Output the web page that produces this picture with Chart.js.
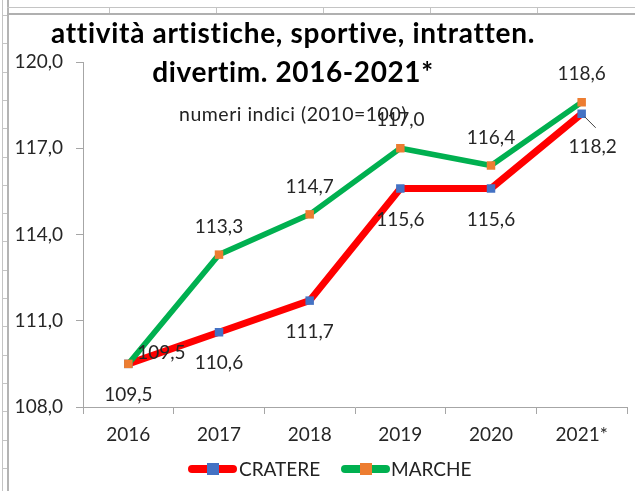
<!DOCTYPE html>
<html>
<head>
<meta charset="utf-8">
<script src="https://cdn.jsdelivr.net/npm/chart.js@4/dist/chart.umd.min.js"></script>
<style>
  html, body { margin: 0; padding: 0; background: #fff; }
  #wrap { position: relative; width: 635px; height: 491px; overflow: hidden; background: #fff; }
  .ln { position: absolute; background: #c4c4c4; }
  #cv { position: absolute; left: 9px; top: 16px; }
  .title { position: absolute; left: 0; width: 586px; text-align: center; font-family: Lato, "Open Sans", sans-serif; font-weight: bold; color: #000; white-space: nowrap; }
  #sub { position: absolute; left: 0; width: 586px; text-align: center; font-family: Lato, "Open Sans", sans-serif; font-size: 19.5px; letter-spacing: 0.5px; color: #222; white-space: nowrap; }
  #legend { position: absolute; top: 457px; left: 188px; height: 24px; font-family: Lato, "Open Sans", sans-serif; font-size: 19px; color: #222; white-space: nowrap; }
  .item { position: absolute; top: 0; height: 24px; }
  .sym { position: absolute; top: 8px; width: 49px; height: 8px; border-radius: 4px; }
  .sq { position: absolute; top: -2px; left: 19px; width: 12px; height: 12px; }
  .lbl { position: absolute; top: 0; line-height: 24px; }
</style>
</head>
<body>
<div id="wrap">
  <div class="ln" style="left:2px;top:0;width:1px;height:491px;"></div>
  <div class="ln" style="left:7px;top:0;width:2px;height:491px;background:#b4b4b4;"></div>
  <div class="ln" style="left:7px;top:7px;width:628px;height:1px;"></div>
  <div class="ln" style="left:7px;top:13px;width:628px;height:2px;background:#b0b0b0;"></div>
  <div id="marks"></div>
  <canvas id="cv" width="626" height="475"></canvas>
  <div class="title" id="t1" style="top:15px;font-size:28px;letter-spacing:0.7px;">attività artistiche, sportive, intratten.</div>
  <div class="title" id="t2" style="top:54px;font-size:28px;letter-spacing:0.6px;">divertim. 2016-2021*</div>
  <div id="sub" style="top:102px;">numeri indici (2010=100)</div>
  <div id="legend">
    <div class="item" style="left:0;">
      <div class="sym" style="left:0;background:#ff0000;"><div class="sq" style="background:#4472c4;"></div></div>
      <div class="lbl" style="left:51px;">CRATERE</div>
    </div>
    <div class="item" style="left:153px;">
      <div class="sym" style="left:0;background:#00b050;"><div class="sq" style="background:#ed7d31;"></div></div>
      <div class="lbl" style="left:50px;">MARCHE</div>
    </div>
  </div>
</div>
<script>
// ---- data ----
const categories = ["2016", "2017", "2018", "2019", "2020", "2021*"];
const cratere = [109.5, 110.6, 111.7, 115.6, 115.6, 118.2];
const marche  = [109.5, 113.3, 114.7, 117.0, 116.4, 118.6];
const yTicks  = [108, 111, 114, 117, 120];
const seriesNames = ["CRATERE", "MARCHE"];

// spreadsheet decoration
(function(){
  const m = document.getElementById('marks');
  [109, 216, 323, 430, 537].forEach(x => {
    const d = document.createElement('div'); d.className = 'ln';
    d.style.cssText = `left:${x}px;top:7px;width:1px;height:6px;`; m.appendChild(d);
  });
  for (let y = 15; y < 491; y += 28.3) {
    const d = document.createElement('div'); d.className = 'ln';
    d.style.cssText = `left:2px;top:${Math.round(y)}px;width:5px;height:1px;`; m.appendChild(d);
  }
})();

const fmt = v => v.toFixed(1).replace('.', ',');
const FONT = 'Lato, "Open Sans", sans-serif';

const labelPlugin = {
  id: 'valueLabels',
  afterDatasetsDraw(chart) {
    const ctx = chart.ctx;
    ctx.save();
    ctx.font = '19px ' + FONT;
    ctx.fillStyle = '#262626';
    ctx.textAlign = 'center';
    ctx.textBaseline = 'middle';
    chart.data.datasets.forEach((ds, di) => {
      const meta = chart.getDatasetMeta(di);
      meta.data.forEach((pt, i) => {
        const txt = fmt(ds.data[i]);
        let x = pt.x, y = pt.y;
        if (ds.label === 'CRATERE') {
          if (i === ds.data.length - 1) {
            ctx.strokeStyle = '#404040'; ctx.lineWidth = 1;
            ctx.beginPath(); ctx.moveTo(x + 3, y + 3); ctx.lineTo(x + 14, y + 14); ctx.stroke();
            x += 11; y += 33;
          } else { y += 31; }
        } else {
          if (i === 0) { x += 33; y -= 11; }
          else { y -= 28; }
        }
        ctx.fillText(txt, x, y);
      });
    });
    ctx.restore();
  }
};

const axisColor = '#a6a6a6';
new Chart(document.getElementById('cv'), {
  type: 'line',
  data: {
    labels: categories,
    datasets: [
      { label: seriesNames[0], data: cratere, borderColor: '#ff0000', backgroundColor: '#4472c4',
        borderWidth: 7, pointStyle: 'rect', pointRadius: 6, pointBorderWidth: 0,
        pointBackgroundColor: '#4472c4', tension: 0, order: 1 },
      { label: seriesNames[1], data: marche, borderColor: '#00b050', backgroundColor: '#ed7d31',
        borderWidth: 5.5, pointStyle: 'rect', pointRadius: 6, pointBorderWidth: 0,
        pointBackgroundColor: '#ed7d31', tension: 0, order: 0 }
    ]
  },
  options: {
    responsive: false,
    animation: false,
    layout: { padding: { left: 0, right: 8, top: 46, bottom: 0 } },
    plugins: { legend: { display: false }, title: { display: false }, tooltip: { enabled: false } },
    scales: {
      x: {
        offset: true,
        grid: { offset: true, drawOnChartArea: false, drawTicks: true, tickLength: 7, color: axisColor },
        border: { color: axisColor, width: 1 },
        ticks: { color: '#262626', font: { family: FONT, size: 19 }, padding: 9, maxRotation: 0 },
        afterFit(s) { s.height = 84; }
      },
      y: {
        min: 108, max: 120,
        afterBuildTicks(s) { s.ticks = yTicks.map(v => ({ value: v })); },
        grid: { drawOnChartArea: false, drawTicks: true, tickLength: 7, color: axisColor },
        border: { color: axisColor, width: 1 },
        ticks: { color: '#262626', font: { family: FONT, size: 19 }, padding: 13, callback: v => fmt(v) },
        afterFit(s) { s.width = 74; }
      }
    }
  },
  plugins: [labelPlugin]
});
</script>
</body>
</html>
